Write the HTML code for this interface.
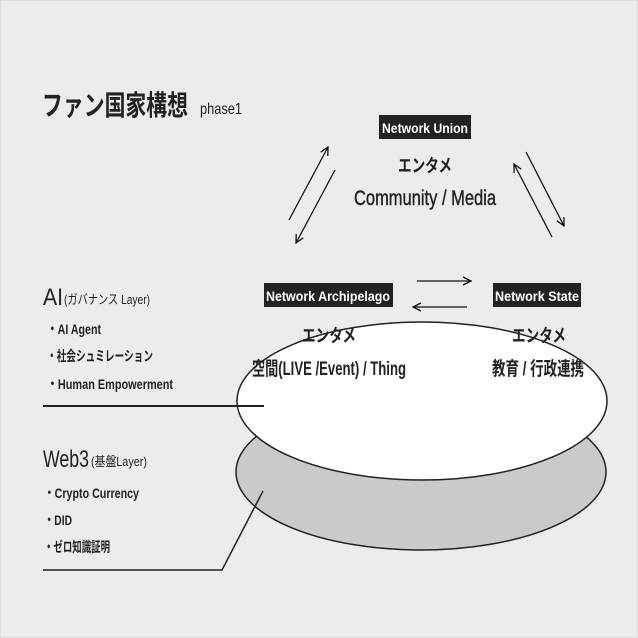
<!DOCTYPE html>
<html><head><meta charset="utf-8"><style>
html,body{margin:0;padding:0;background:#ededed;}
svg{display:block;}
text{font-family:"Liberation Sans","Noto Sans CJK JP",sans-serif;fill:#222;}
text.w{fill:#fff;font-weight:bold;}
</style></head><body>
<svg width="638" height="638" viewBox="0 0 638 638" xmlns="http://www.w3.org/2000/svg">
<defs>
<marker id="ah" markerWidth="10" markerHeight="10" refX="9" refY="5" orient="auto" markerUnits="userSpaceOnUse">
<path d="M1,1 L9,5 L1,9" fill="none" stroke="#111" stroke-width="1.3"/>
</marker>
</defs>
<rect width="638" height="638" fill="#ececec"/>
<rect x="0.5" y="0.5" width="637" height="637" fill="none" stroke="#ddd"/>

<text x="42" y="115" font-size="28" font-weight="bold" textLength="146" lengthAdjust="spacingAndGlyphs">ファン国家構想</text>
<text x="200" y="114" font-size="16" textLength="42" lengthAdjust="spacingAndGlyphs">phase1</text>

<ellipse cx="421" cy="472" rx="185" ry="78" fill="#cacaca" stroke="#222" stroke-width="1.5"/>
<ellipse cx="422" cy="401" rx="185" ry="79" fill="#fff" stroke="#222" stroke-width="1.5"/>

<rect x="379" y="115" width="92" height="24" fill="#222"/>
<text class="w" x="425" y="133" font-size="14" text-anchor="middle" textLength="86" lengthAdjust="spacingAndGlyphs">Network Union</text>
<text x="425" y="172" font-size="18" font-weight="bold" text-anchor="middle" textLength="54" lengthAdjust="spacingAndGlyphs">エンタメ</text>
<text x="425" y="205" font-size="21" text-anchor="middle" textLength="142" lengthAdjust="spacingAndGlyphs" stroke="#222" stroke-width="0.4">Community / Media</text>

<rect x="264" y="283" width="129" height="24" fill="#222"/>
<text class="w" x="328" y="301" font-size="14" text-anchor="middle" textLength="124" lengthAdjust="spacingAndGlyphs">Network Archipelago</text>
<rect x="493" y="283" width="88" height="24" fill="#222"/>
<text class="w" x="537" y="301" font-size="14" text-anchor="middle" textLength="84" lengthAdjust="spacingAndGlyphs">Network State</text>

<text x="329" y="342" font-size="18" font-weight="bold" text-anchor="middle" textLength="54" lengthAdjust="spacingAndGlyphs">エンタメ</text>
<text x="329" y="375" font-size="19" font-weight="bold" text-anchor="middle" textLength="154" lengthAdjust="spacingAndGlyphs">空間(LIVE /Event) / Thing</text>
<text x="539" y="342" font-size="18" font-weight="bold" text-anchor="middle" textLength="54" lengthAdjust="spacingAndGlyphs">エンタメ</text>
<text x="538" y="375" font-size="19" font-weight="bold" text-anchor="middle" textLength="92" lengthAdjust="spacingAndGlyphs">教育 / 行政連携</text>

<g stroke="#111" stroke-width="1.3" fill="none">
<line x1="289" y1="220" x2="328" y2="147" marker-end="url(#ah)"/>
<line x1="335" y1="170" x2="296" y2="243" marker-end="url(#ah)"/>
<line x1="552" y1="237" x2="514" y2="164" marker-end="url(#ah)"/>
<line x1="526" y1="152" x2="564" y2="226" marker-end="url(#ah)"/>
<line x1="417" y1="281" x2="471" y2="281" marker-end="url(#ah)"/>
<line x1="467" y1="307" x2="413" y2="307" marker-end="url(#ah)"/>
</g>

<text x="43" y="305" font-size="24" textLength="20" lengthAdjust="spacingAndGlyphs">AI</text>
<text x="64" y="304" font-size="13" textLength="86" lengthAdjust="spacingAndGlyphs">(ガバナンス Layer)</text>
<text x="47" y="334" font-size="14" font-weight="bold" textLength="54" lengthAdjust="spacingAndGlyphs">・AI Agent</text>
<text x="47" y="361" font-size="14" font-weight="bold" textLength="106" lengthAdjust="spacingAndGlyphs">・社会シュミレーション</text>
<text x="47" y="389" font-size="14" font-weight="bold" textLength="126" lengthAdjust="spacingAndGlyphs">・Human Empowerment</text>
<line x1="43" y1="406" x2="264" y2="406" stroke="#222" stroke-width="2"/>

<text x="43" y="467" font-size="24" textLength="46" lengthAdjust="spacingAndGlyphs">Web3</text>
<text x="91" y="466" font-size="13" textLength="56" lengthAdjust="spacingAndGlyphs">(基盤Layer)</text>
<text x="44" y="498" font-size="14" font-weight="bold" textLength="95" lengthAdjust="spacingAndGlyphs">・Crypto Currency</text>
<text x="44" y="525" font-size="14" font-weight="bold" textLength="28" lengthAdjust="spacingAndGlyphs">・DID</text>
<text x="44" y="552" font-size="14" font-weight="bold" textLength="66" lengthAdjust="spacingAndGlyphs">・ゼロ知識証明</text>
<polyline points="43,570 222,570 263,491" fill="none" stroke="#222" stroke-width="1.5"/>
</svg>
</body></html>
